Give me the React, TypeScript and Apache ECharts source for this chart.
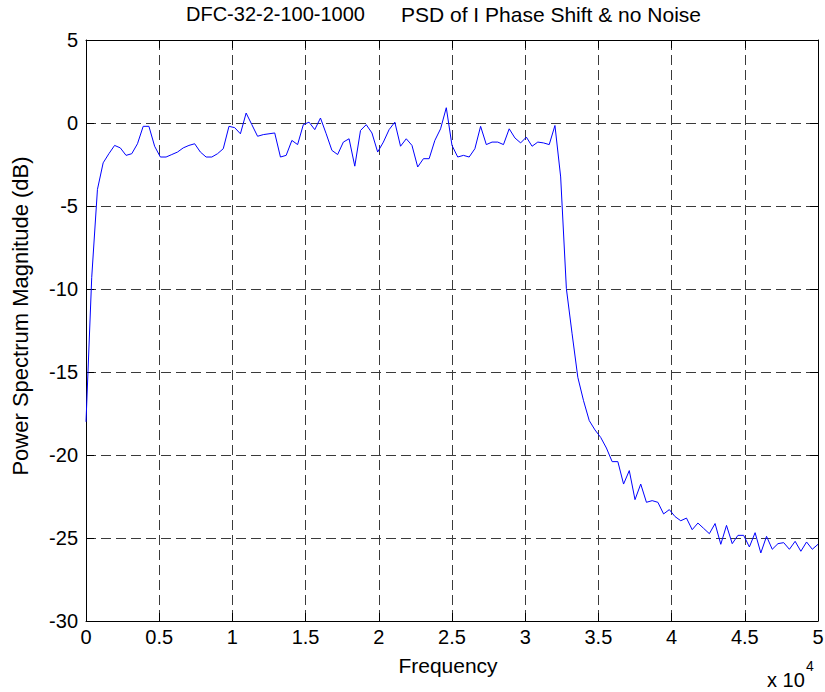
import React, { useEffect, useRef } from "react";
import * as echarts from "echarts";

const FONT = '"Liberation Sans", Arial, Helvetica, sans-serif';

const TITLE_LEFT = "DFC-32-2-100-1000";
const TITLE_RIGHT = "PSD of I Phase Shift & no Noise";
const X_NAME = "Frequency";
const Y_NAME = "Power Spectrum Magnitude (dB)";
const X_EXP_BASE = "x 10";
const X_EXP = "4";

const SAMPLE_RATE = 100000;
const NFFT = 256;

// PSD magnitude (dB) at bins 0..128 (0 .. 50 kHz)
const psdDb: number[] = [
  -18.0, -9.3, -4.0, -2.4, -1.85, -1.35, -1.5, -1.95, -1.85, -1.25,
  -0.2, -0.2, -1.4, -2.05, -2.05, -1.9, -1.75, -1.5, -1.35, -1.25,
  -1.75, -2.05, -2.05, -1.85, -1.55, -0.2, -0.28, -0.65, 0.6, -0.1,
  -0.8, -0.7, -0.65, -0.6, -2.05, -1.95, -1.05, -1.3, -0.1, 0.05,
  -0.4, 0.3, -0.65, -1.65, -1.9, -1.15, -0.95, -2.6, -0.45, -0.1,
  -0.6, -1.75, -1.15, -0.4, 0.05, -1.4, -0.95, -1.35, -2.65, -2.15,
  -2.15, -1.05, -0.35, 0.92, -1.35, -2.05, -1.95, -2.05, -1.55, -0.2,
  -1.3, -1.15, -1.15, -1.3, -0.35, -0.9, -1.2, -0.85, -1.4, -1.15,
  -1.2, -1.3, -0.15, -3.25, -9.98, -12.7, -15.32, -16.73, -17.93, -18.49,
  -18.94, -19.58, -20.4, -20.4, -21.75, -20.94, -22.69, -21.75, -22.85, -22.75,
  -22.85, -23.55, -23.29, -23.71, -23.96, -23.8, -24.5, -24.1, -24.42, -24.74,
  -24.13, -25.38, -24.24, -25.34, -24.84, -24.84, -25.54, -24.68, -25.9, -24.9,
  -25.68, -25.34, -25.28, -25.68, -25.2, -25.8, -25.24, -25.68, -25.38,
];

const X_MIN = 0;
const X_MAX = 50000;
const X_STEP = 5000;
const Y_MIN = -30;
const Y_MAX = 5;
const Y_STEP = 5;

export default function App() {
  const ref = useRef<HTMLDivElement>(null);

  useEffect(() => {
    if (!ref.current) return;
    const chart = echarts.init(ref.current, undefined, { renderer: "svg" });
    const binHz = SAMPLE_RATE / NFFT;
    const data = psdDb.map((v, i) => [i * binHz, v]);

    const gridLine = { color: "#3a3a3a", width: 1, type: [10, 5] as number[] };
    const axisLine = { show: true, onZero: false, lineStyle: { color: "#000", width: 1 } };
    const tick = { show: true, inside: true, length: 8, lineStyle: { color: "#000", width: 1 } };
    const labelBase = { color: "#000", fontSize: 20, fontFamily: FONT };

    chart.setOption({
      animation: false,
      backgroundColor: "#ffffff",
      textStyle: { fontFamily: FONT },
      grid: {
        left: 86,
        top: 40,
        width: 732,
        height: 581,
        show: false,
        containLabel: false,
        outerBoundsMode: "none",
      },
      xAxis: [
        {
          type: "value",
          position: "bottom",
          min: X_MIN,
          max: X_MAX,
          interval: X_STEP,
          axisLine,
          axisTick: tick,
          axisLabel: {
            ...labelBase,
            margin: 6,
            showMinLabel: true,
            showMaxLabel: true,
            formatter: (v: number) => String(v / 10000),
          },
          splitLine: { show: true, lineStyle: gridLine },
        },
        {
          type: "value",
          position: "top",
          min: X_MIN,
          max: X_MAX,
          interval: X_STEP,
          axisLine,
          axisTick: tick,
          axisLabel: { show: false },
          splitLine: { show: false },
        },
      ],
      yAxis: [
        {
          type: "value",
          position: "left",
          min: Y_MIN,
          max: Y_MAX,
          interval: Y_STEP,
          axisLine,
          axisTick: tick,
          axisLabel: { ...labelBase, margin: 8, showMinLabel: true, showMaxLabel: true },
          splitLine: { show: true, lineStyle: gridLine },
        },
        {
          type: "value",
          position: "right",
          min: Y_MIN,
          max: Y_MAX,
          interval: Y_STEP,
          axisLine,
          axisTick: tick,
          axisLabel: { show: false },
          splitLine: { show: false },
        },
      ],
      graphic: [
        {
          type: "text",
          left: 186,
          top: 4,
          style: { text: TITLE_LEFT, fill: "#000", font: `20px ${FONT}` },
        },
        {
          type: "text",
          left: 401,
          top: 4,
          style: { text: TITLE_RIGHT, fill: "#000", font: `21px ${FONT}` },
        },
        {
          type: "text",
          x: 448,
          y: 665,
          style: {
            text: X_NAME,
            fill: "#000",
            font: `21px ${FONT}`,
            align: "center",
            verticalAlign: "middle",
          },
        },
        {
          type: "text",
          x: 20,
          y: 316,
          rotation: Math.PI / 2,
          style: {
            text: Y_NAME,
            fill: "#000",
            font: `22px ${FONT}`,
            align: "center",
            verticalAlign: "middle",
          },
        },
        {
          type: "text",
          left: 767,
          top: 670,
          style: { text: X_EXP_BASE, fill: "#000", font: `20px ${FONT}` },
        },
        {
          type: "text",
          left: 806,
          top: 659,
          style: { text: X_EXP, fill: "#000", font: `14px ${FONT}` },
        },
      ],
      series: [
        {
          type: "line",
          xAxisIndex: 0,
          yAxisIndex: 0,
          data,
          symbol: "none",
          showSymbol: false,
          lineStyle: { color: "#0000ff", width: 1 },
          emphasis: { disabled: true },
        },
      ],
    });
    return () => chart.dispose();
  }, []);

  return (
    <div
      ref={ref}
      style={{ position: "fixed", left: 0, top: 0, width: 825, height: 692, background: "#fff" }}
    />
  );
}
